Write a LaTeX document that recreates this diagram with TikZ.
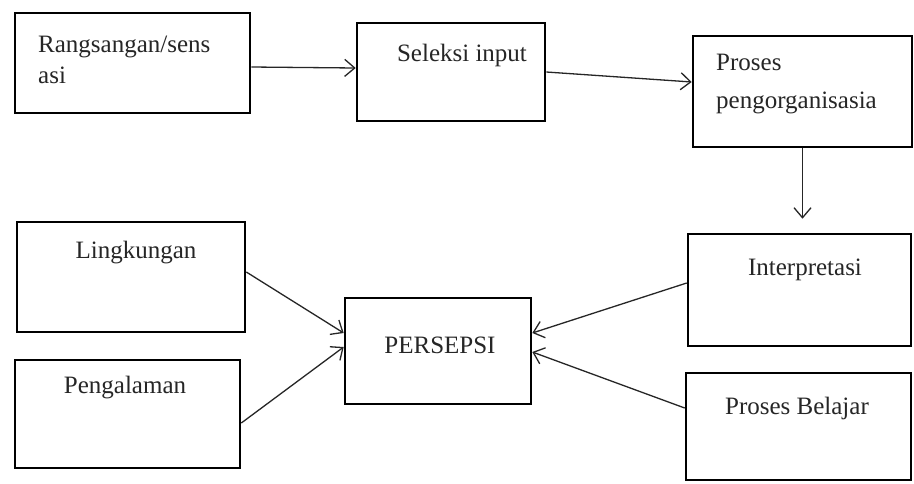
\documentclass[tikz,border=0pt]{standalone}
\usepackage{fontspec}
\setmainfont{Liberation Serif}
\usetikzlibrary{arrows.meta}
\begin{document}
\begin{tikzpicture}[x=1pt,y=-1pt,
  box/.style={draw=black,line width=2.6pt,rectangle,inner sep=0pt},
  txt/.style={font=\fontsize{25}{29}\selectfont,text=black!85,inner sep=0pt},
  conn/.style={draw=black!85,line width=1.3pt,-{Straight Barb[length=10pt,width=17pt,line width=1.3pt]}}]
\useasboundingbox (0,0) rectangle (914,483);
\fill[white] (0,0) rectangle (914,483);
% boxes
\node[box,minimum width=235pt,minimum height=100pt] (b1) at (132.5,63) {};
\node[box,minimum width=188pt,minimum height=98pt] (b2) at (451,72) {};
\node[box,minimum width=219pt,minimum height=111pt] (b3) at (802.5,91.5) {};
\node[box,minimum width=223pt,minimum height=112pt] (b4) at (799.5,290) {};
\node[box,minimum width=225pt,minimum height=107pt] (b5) at (798.5,426.5) {};
\node[box,minimum width=186pt,minimum height=106pt] (p) at (438,351) {};
\node[box,minimum width=228pt,minimum height=110pt] (l) at (131,277) {};
\node[box,minimum width=225pt,minimum height=108pt] (g) at (127.5,414) {};
% texts
\node[txt,anchor=west] (t1) at (38,47) {Rangsangan/sens};
\node[txt,anchor=west] (t1b) at (38,75) {asi};
\node[txt] (t2) at (462,55) {Seleksi input};
\node[txt,anchor=west] (t3) at (716,62) {Proses};
\node[txt,anchor=west] (t3b) at (716,103) {pengorganisasia};
\node[txt] (t4) at (805,270) {Interpretasi};
\node[txt] (t5) at (797,408) {Proses Belajar};
\node[txt] (tp) at (440,345) {PERSEPSI};
\node[txt] (tl) at (136,253) {Lingkungan};
\node[txt] (tg) at (125,388) {Pengalaman};
% connectors
\draw[conn] ([yshift=-4pt]b1.east) -- ([yshift=4pt]b2.west);
\draw[conn] (b2.east) -- ([yshift=9.5pt]b3.west);
\coordinate (dn) at ([yshift=14pt]b3.south |- b4.north);
\draw[conn] (b3.south) -- (dn);
\draw[conn] ([yshift=5pt]l.east) -- ([yshift=18pt]p.west);
\draw[conn] ([yshift=-9pt]g.east) -- ([yshift=4pt]p.west);
\draw[conn] ([yshift=7pt]b4.west) -- ([yshift=18pt]p.east);
\draw[conn] ([yshift=18.5pt]b5.west) -- ([yshift=-1pt]p.east);
\end{tikzpicture}
\end{document}
